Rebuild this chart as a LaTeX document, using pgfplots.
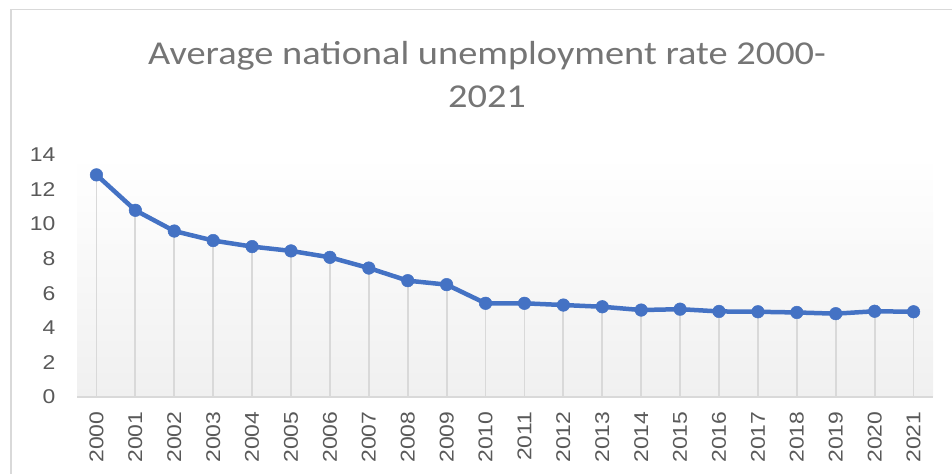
\documentclass[border=0pt]{standalone}
\usepackage{fontspec}
\setmainfont{Liberation Sans}
\newfontfamily\titlefont[FakeStretch=1.15]{Carlito}
\newfontfamily\tickfont[FakeStretch=1.15]{Liberation Sans}
\usepackage{pgfplots}
\pgfplotsset{compat=1.18}
\definecolor{exblue}{HTML}{4472C4}
\definecolor{dropgray}{HTML}{D9D9D9}
\definecolor{bggray}{HTML}{F0F0F0}
\definecolor{ticktext}{HTML}{595959}
\definecolor{titletext}{HTML}{757575}
\definecolor{framegray}{HTML}{D9D9D9}
\pgfplotstableread{
x y
0 12.85
1 10.8
2 9.6
3 9.05
4 8.7
5 8.45
6 8.08
7 7.46
8 6.73
9 6.5
10 5.42
11 5.42
12 5.32
13 5.22
14 5.03
15 5.08
16 4.95
17 4.93
18 4.89
19 4.82
20 4.96
21 4.93
}\datatable
\begin{document}
\begin{tikzpicture}[x=1bp,y=1bp]
\path[use as bounding box] (0,0) rectangle (952,474);
\draw[framegray, line width=1.5bp] (11,0) -- (11,464.5) -- (952,464.5);
\node[anchor=base, text=titletext, font=\titlefont\fontsize{33.5}{40}\selectfont, inner sep=0pt] at (487,409) {Average national unemployment rate 2000-};
\node[anchor=base, text=titletext, font=\titlefont\fontsize{33.5}{40}\selectfont, inner sep=0pt] at (487,366) {2021};
\begin{axis}[
  at={(77bp,77bp)}, anchor=south west,
  scale only axis, width=856bp, height=242bp,
  xmin=-0.5, xmax=21.5, ymin=0, ymax=14,
  ytick={0,2,...,14},
  xtick=data,
  xticklabels={2000,2001,2002,2003,2004,2005,2006,2007,2008,2009,2010,2011,2012,2013,2014,2015,2016,2017,2018,2019,2020,2021},
  axis line style={draw=none},
  major tick length=0pt,
  tick label style={font=\tickfont\fontsize{20}{23}\selectfont, text=ticktext},
  /pgf/number format/assume math mode=true,
  yticklabel style={anchor=east, xshift=-18bp},
  xticklabel style={yshift=-11bp, rotate=90, anchor=east},
  clip=false,
]
\fill[top color=white, bottom color=bggray] (rel axis cs:0,0) rectangle (rel axis cs:1,1);
\addplot[ycomb, draw=dropgray, line width=1.8bp, no markers] table[x=x,y=y] {\datatable};
\draw[dropgray, line width=1.8bp] (rel axis cs:0,0) -- (rel axis cs:1,0);
\addplot[color=exblue, line width=4.5bp, mark=*, mark size=6.3bp, mark options={fill=exblue, line width=0.5bp}] table[x=x,y=y] {\datatable};
\end{axis}
\end{tikzpicture}
\end{document}
